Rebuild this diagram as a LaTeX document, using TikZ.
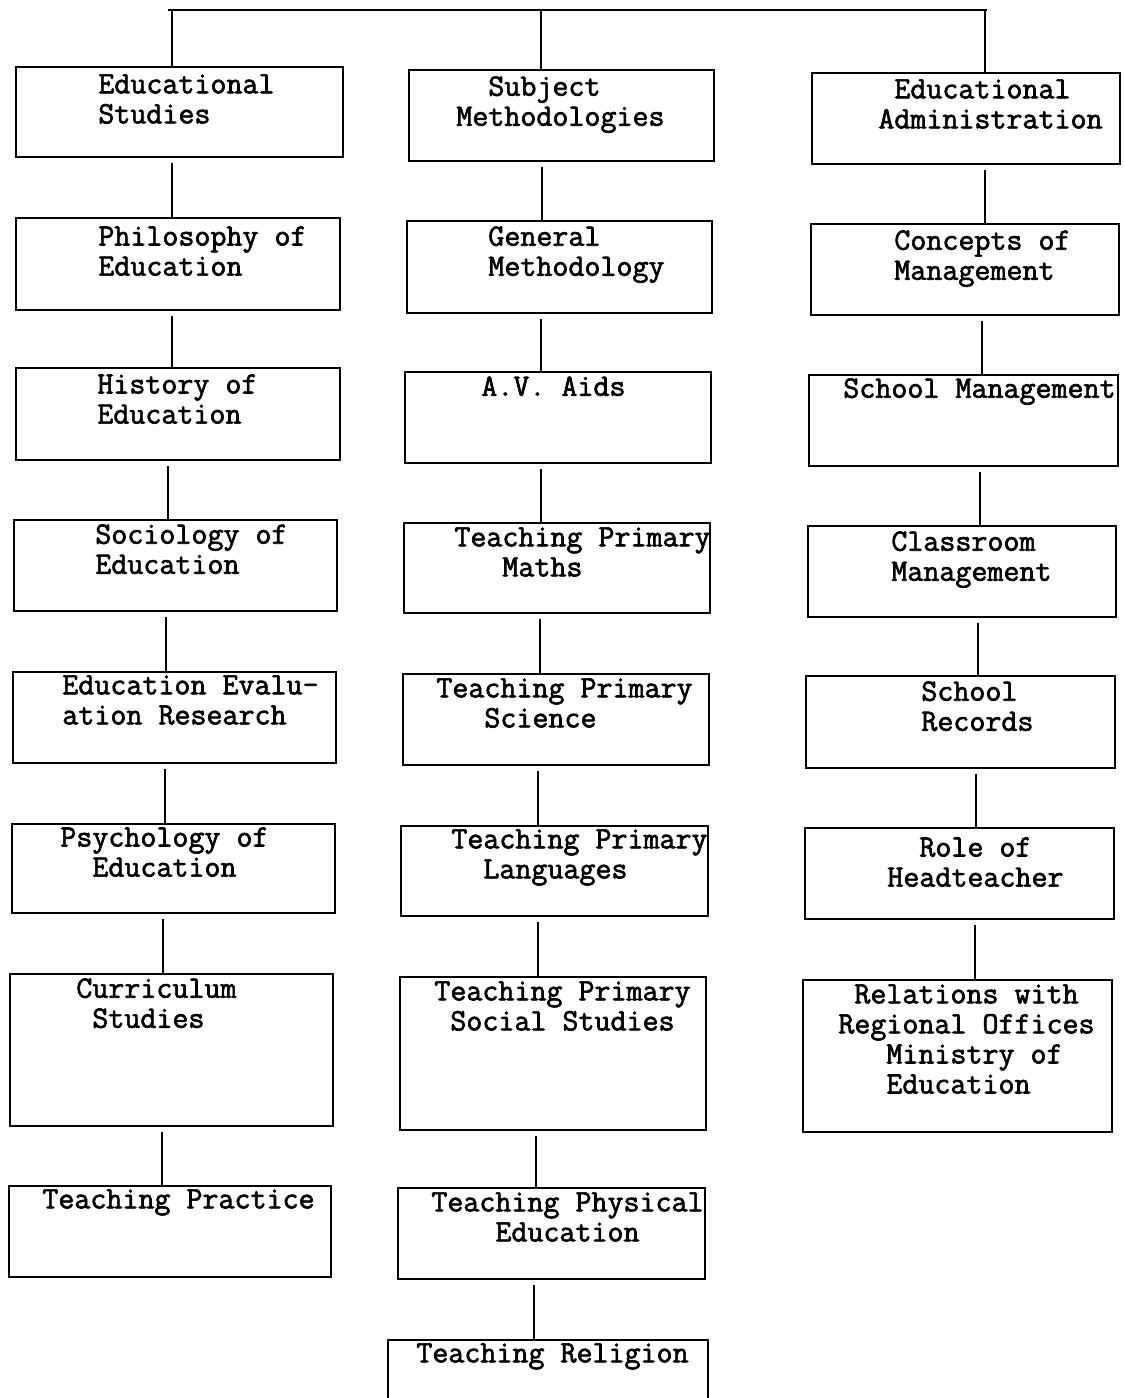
\documentclass[tikz,border=0pt]{standalone}
\usepackage{fontspec}
\newfontfamily\typewriter{Latin Modern Mono}[FakeBold=2]
\usetikzlibrary{fit}

\begin{document}
\begin{tikzpicture}[
  x=0.02cm, y=-0.02cm,
  box/.style={draw, line width=0.8pt, inner sep=0pt},
  txt/.style={
    anchor=north west, align=left, inner sep=0pt, yshift=0.06cm,
    font=\typewriter\fontsize{17.7}{17.1}\selectfont
  },
  link/.style={line width=1.3pt, shorten <=0.1cm},
  bus/.style={line width=1pt}
]
\useasboundingbox (0,0) rectangle (1123,1398);

% Educational Studies
\node[box, fit={(16,67) (343,157)}]    (es)  {};
\node[box, fit={(16,218) (340,310)}]   (ph)  {};
\node[box, fit={(16,368) (340,460)}]   (hi)  {};
\node[box, fit={(14,520) (337,611)}]   (so)  {};
\node[box, fit={(13,672) (336,763)}]   (ee)  {};
\node[box, fit={(12,824) (335,913)}]   (py)  {};
\node[box, fit={(10,974) (333,1126)}]  (cu)  {};
\node[box, fit={(9,1186) (331,1277)}]  (tp)  {};

\node[txt] (es-t) at (98,77)   {Educational\\Studies};
\node[txt] (ph-t) at (98,229)  {Philosophy of\\Education};
\node[txt] (hi-t) at (97,377)  {History of\\Education};
\node[txt] (so-t) at (95,527)  {Sociology of\\Education};
\node[txt] (ee-t) at (62,678)  {Education Evalu-\\ation Research};
\node[txt] (py-t) at (60,830)  {Psychology of\\~~Education};
\node[txt] (cu-t) at (76,981)  {Curriculum\\~Studies};
\node[txt] (tp-t) at (42,1192) {Teaching Practice};

% Subject Methodologies
\node[box, fit={(409,70) (714,161)}]    (sm)  {};
\node[box, fit={(407,221) (712,313)}]   (gm)  {};
\node[box, fit={(405,372) (711,463)}]   (av)  {};
\node[box, fit={(404,523) (710,613)}]   (pm)  {};
\node[box, fit={(403,674) (709,765)}]   (psc) {};
\node[box, fit={(401,826) (708,916)}]   (pl)  {};
\node[box, fit={(400,977) (706,1130)}]  (pss) {};
\node[box, fit={(398,1188) (705,1279)}] (pe)  {};
\node[box, fit={(388,1340) (708,1410)}] (re)  {};

\node[txt] (sm-t)  at (456,79)   {~~Subject\\Methodologies};
\node[txt] (gm-t)  at (488,229)  {General\\Methodology};
\node[txt] (av-t)  at (481,379)  {A.V. Aids};
\node[txt] (pm-t)  at (454,530)  {Teaching Primary\\~~~Maths};
\node[txt] (psc-t) at (436,681)  {Teaching Primary\\~~~Science};
\node[txt] (pl-t)  at (451,832)  {Teaching Primary\\~~Languages};
\node[txt] (pss-t) at (434,984)  {Teaching Primary\\~Social Studies};
\node[txt] (pe-t)  at (431,1195) {Teaching Physical\\~~~~Education};
\node[txt] (re-t)  at (416,1346) {Teaching Religion};

% Educational Administration
\node[box, fit={(812,73) (1120,164)}]   (ea)  {};
\node[box, fit={(811,224) (1119,315)}]  (cm)  {};
\node[box, fit={(809,375) (1118,466)}]  (smg) {};
\node[box, fit={(808,526) (1116,617)}]  (crm) {};
\node[box, fit={(806,676) (1115,768)}]  (sr)  {};
\node[box, fit={(805,828) (1114,919)}]  (rh)  {};
\node[box, fit={(803,980) (1112,1132)}] (rel) {};

\node[txt] (ea-t)  at (878,82)  {~Educational\\Administration};
\node[txt] (cm-t)  at (894,233) {Concepts of\\Management};
\node[txt] (smg-t) at (843,381) {School Management};
\node[txt] (crm-t) at (891,534) {Classroom\\Management};
\node[txt] (sr-t)  at (921,684) {School\\Records};
\node[txt] (rh-t)  at (887,840) {~~Role of\\Headteacher};
\node[txt] (rel-t) at (838,987) {~Relations with\\Regional Offices\\~~~Ministry of\\~~~Education};

% top bar
\coordinate (bar-l) at (168,10);
\coordinate (bar-r) at (987,10);
\draw[bus] (bar-l) -- (bar-r);
\foreach \b/\x in {es/172, sm/541, ea/985}
  \draw[link, shorten <=0pt] (bar-l -| \x,0) -- (\b.north -| \x,0);

% chains
\foreach \a/\b/\x in {es/ph/172, ph/hi/172, hi/so/168, so/ee/166, ee/py/165,
                      py/cu/163, cu/tp/162}
  \draw[link] (\a.south -| \x,0) -- (\b.north -| \x,0);
\foreach \a/\b/\x in {sm/gm/542, gm/av/541, av/pm/541, pm/psc/540, psc/pl/538,
                      pl/pss/538, pss/pe/536, pe/re/534}
  \draw[link] (\a.south -| \x,0) -- (\b.north -| \x,0);
\foreach \a/\b/\x in {ea/cm/985, cm/smg/982, smg/crm/980, crm/sr/978,
                      sr/rh/976, rh/rel/975}
  \draw[link] (\a.south -| \x,0) -- (\b.north -| \x,0);
\end{tikzpicture}
\end{document}
